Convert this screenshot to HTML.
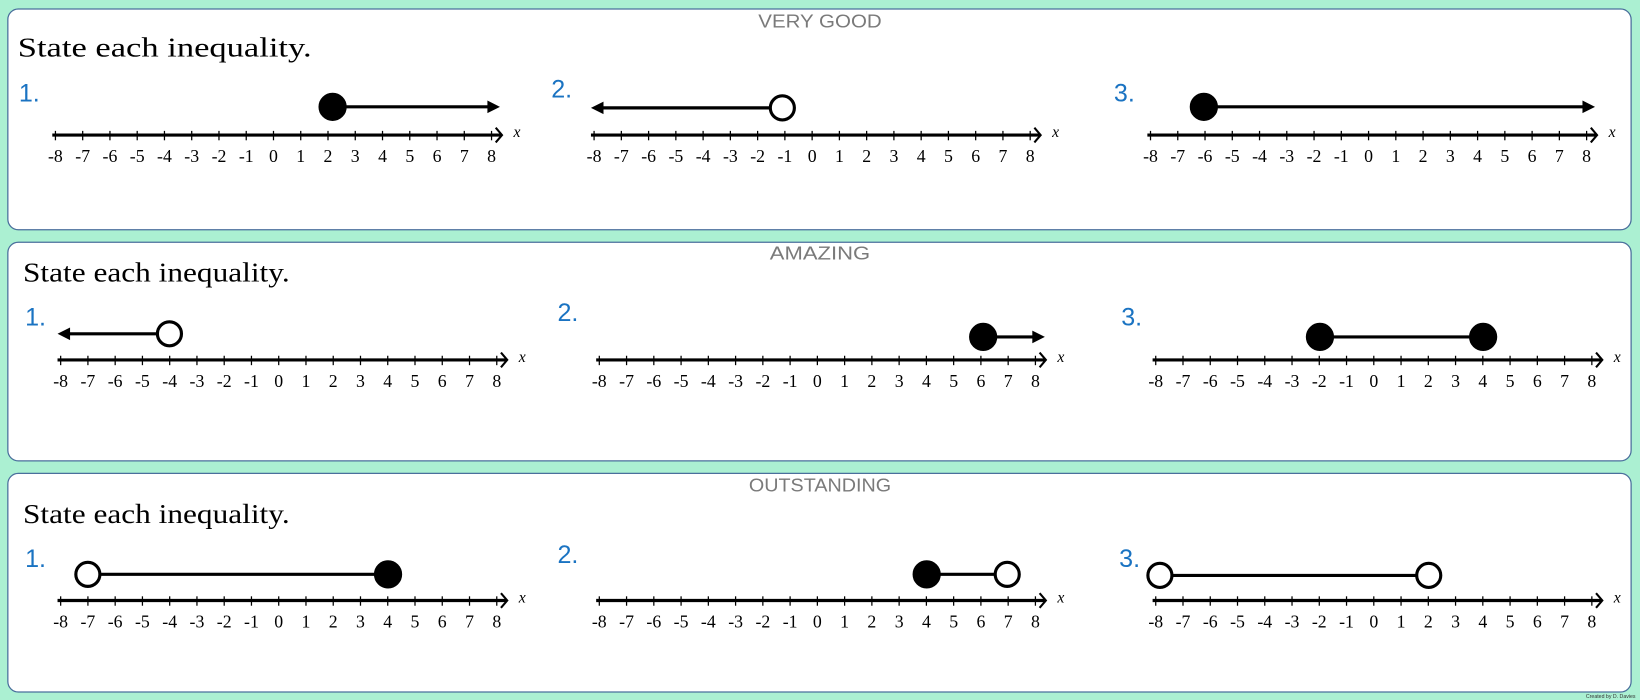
<!DOCTYPE html>
<html><head><meta charset="utf-8"><style>
html,body{margin:0;padding:0;background:#abf0d2;}
svg{display:block}
</style></head><body>
<svg width="1640" height="700" viewBox="0 0 1568 669" xmlns="http://www.w3.org/2000/svg">
<rect x="0" y="0" width="1568" height="669" fill="#abf0d2"/>
<g fill="#fff" stroke="#4a6f9c" stroke-width="1.2">
<rect x="7.5" y="8.5" width="1552" height="211" rx="10"/>
<rect x="7.5" y="231.5" width="1552" height="209" rx="10"/>
<rect x="7.5" y="452.5" width="1552" height="209" rx="10"/>
</g>
<g font-family="Liberation Sans, sans-serif" font-size="18" fill="#7a7a7a" text-anchor="middle">
<text x="784" y="26" textLength="118" lengthAdjust="spacingAndGlyphs">VERY GOOD</text>
<text x="784" y="248" textLength="96" lengthAdjust="spacingAndGlyphs">AMAZING</text>
<text x="784" y="470" textLength="136" lengthAdjust="spacingAndGlyphs">OUTSTANDING</text>
</g>
<g font-family="Liberation Serif, serif" font-size="26" fill="#000">
<text x="17" y="54" textLength="281" lengthAdjust="spacingAndGlyphs">State each inequality.</text>
<text x="22" y="269" textLength="255" lengthAdjust="spacingAndGlyphs">State each inequality.</text>
<text x="22" y="500" textLength="255" lengthAdjust="spacingAndGlyphs">State each inequality.</text>
</g>
<g font-family="Liberation Sans, sans-serif" font-size="24" fill="#1a73c2">
<text x="18" y="97">1.</text><text x="527" y="93">2.</text><text x="1065" y="97">3.</text>
<text x="24" y="311">1.</text><text x="533" y="307">2.</text><text x="1072" y="311">3.</text>
<text x="24" y="542">1.</text><text x="533" y="538">2.</text><text x="1070" y="542">3.</text>
</g>
<text x="1540" y="667" font-family="Liberation Sans, sans-serif" font-size="5" fill="#333" text-anchor="middle">Created by D. Davies</text>
<script>
(function(){
var NS="http://www.w3.org/2000/svg";
var root=document.querySelector('svg');
function el(n,a,p){var e=document.createElementNS(NS,n);for(var k in a)e.setAttribute(k,a[k]);(p||root).appendChild(e);return e;}
var axes=[[50,129],[565,129],[1097,129],[55,344],[570,344],[1102,344],[55,574],[570,574],[1102,574]];
axes.forEach(function(a){
  var s=a[0],y=a[1],t0=s+3,sp=26.06,end=t0+16*sp;
  el('line',{x1:s,y1:y,x2:end+9,y2:y,stroke:'#000','stroke-width':3});
  el('polyline',{points:(end+4)+','+(y-7)+' '+(end+10)+','+y+' '+(end+4)+','+(y+7),fill:'none',stroke:'#000','stroke-width':2});
  for(var i=0;i<=16;i++){var x=t0+i*sp;
    el('line',{x1:x,y1:y-4,x2:x,y2:y+5,stroke:'#000','stroke-width':1.2});
    var t=el('text',{x:x,y:y+26,'font-family':'Liberation Serif, serif','font-size':17,'text-anchor':'middle'});
    t.textContent=(i-8<0?'-':'')+Math.abs(i-8);}
  var tx=el('text',{x:end+21,y:y+2,'font-family':'Liberation Serif, serif','font-size':15,'font-style':'italic'});tx.textContent='x';
});
function seg(x1,x2,y){el('line',{x1:x1,y1:y,x2:x2,y2:y,stroke:'#000','stroke-width':3});}
function arrR(x,y){el('polygon',{points:(x-12)+','+(y-6)+' '+x+','+y+' '+(x-12)+','+(y+6),fill:'#000'});}
function arrL(x,y){el('polygon',{points:(x+12)+','+(y-6)+' '+x+','+y+' '+(x+12)+','+(y+6),fill:'#000'});}
function dot(x,y,open){el('circle',{cx:x,cy:y,r:open?11.5:13,fill:open?'#fff':'#000',stroke:'#000','stroke-width':open?3:1});}
seg(318,470,102);arrR(478,102);dot(318,102,false);
seg(572,748,103);arrL(565,103);dot(748,103,true);
seg(1151,1515,102);arrR(1525,102);dot(1151,102,false);
seg(62,162,319);arrL(55,319);dot(162,319,true);
seg(940,990,322);arrR(999,322);dot(940,322,false);
seg(1262,1418,322);dot(1262,322,false);dot(1418,322,false);
seg(84,371,549);dot(84,549,true);dot(371,549,false);
seg(886,963,549);dot(886,549,false);dot(963,549,true);
seg(1109,1366,550);dot(1109,550,true);dot(1366,550,true);
})();
</script>
</svg>
</body></html>
